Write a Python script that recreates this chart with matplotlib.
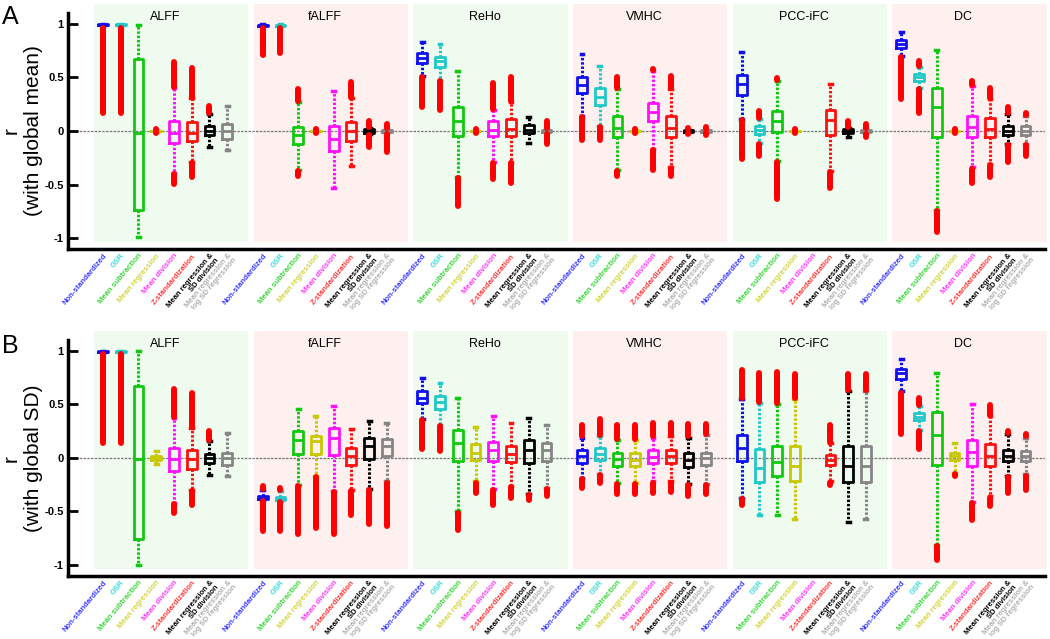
import numpy as np
import matplotlib
matplotlib.use('Agg')
import matplotlib.pyplot as plt
from matplotlib.patches import Rectangle

plt.rcParams['font.family'] = ['Liberation Sans', 'DejaVu Sans']

nan = np.nan
groups = ['ALFF', 'fALFF', 'ReHo', 'VMHC', 'PCC-iFC', 'DC']
methods = ['Non-standardized', 'GSR', 'Mean subtraction', 'Mean regression',
           'Mean division', 'Z-standardization', 'Mean regression &\nSD division',
           'Mean regression &\nlog SD regression']
box_colors = ['#1010ee', '#22c8c8', '#10c810', '#c8c800', '#ff10ff', '#ff1010', '#000000', '#858585']
label_colors = ['#3a3aff', '#3ad8d8', '#3ad83a', '#d4d440', '#ff3aff', '#ff3a3a', '#000000', '#b0b0b0']
bg_colors = ['#effbef', '#fdf0ef']

# each row: (whisker low, q1, median, q3, whisker high, lowest outlier, highest outlier)
TINY = (-0.005, -0.003, 0.0, 0.003, 0.005, -0.012, 0.012)

A_ALFF = [(0.975, 0.985, 0.99, 0.995, 1.0, 0.17, nan),
          (0.975, 0.985, 0.99, 0.995, 1.0, 0.17, nan),
          (-0.99, -0.74, -0.015, 0.67, 0.99, nan, nan),
          TINY,
          (-0.39, -0.11, -0.014, 0.094, 0.40, -0.49, 0.64),
          (-0.29, -0.09, -0.014, 0.08, 0.31, -0.43, 0.59),
          (-0.15, -0.04, 0.0, 0.05, 0.16, nan, 0.23),
          (-0.18, -0.07, 0.0, 0.07, 0.23, nan, nan)]
A_fALFF = [(0.975, 0.98, 0.985, 0.99, 0.995, 0.71, nan),
           (0.975, 0.98, 0.985, 0.99, 0.995, 0.73, nan),
           (-0.36, -0.12, -0.04, 0.04, 0.27, -0.42, 0.39),
           TINY,
           (-0.53, -0.19, -0.076, 0.05, 0.37, nan, nan),
           (-0.33, -0.09, 0.0, 0.08, 0.31, nan, 0.46),
           (-0.03, -0.02, 0.0, 0.02, 0.03, -0.15, 0.095),
           (-0.02, -0.01, 0.0, 0.01, 0.02, -0.20, 0.065)]
A_ReHo = [(0.51, 0.63, 0.68, 0.73, 0.83, 0.22, nan),
          (0.48, 0.60, 0.65, 0.69, 0.81, 0.20, nan),
          (-0.43, -0.05, 0.095, 0.22, 0.56, -0.70, nan),
          TINY,
          (-0.29, -0.05, 0.01, 0.09, 0.20, -0.45, 0.45),
          (-0.29, -0.05, 0.02, 0.11, 0.27, -0.48, 0.50),
          (-0.114, -0.02, 0.01, 0.054, 0.135, nan, nan),
          (-0.02, -0.01, 0.0, 0.01, 0.02, -0.12, 0.095)]
A_VMHC = [(0.14, 0.35, 0.43, 0.50, 0.72, -0.08, nan),
          (0.05, 0.24, 0.32, 0.40, 0.61, -0.08, nan),
          (-0.36, -0.06, 0.03, 0.14, 0.39, -0.42, 0.50),
          TINY,
          (-0.17, 0.09, 0.18, 0.26, 0.56, -0.36, 0.58),
          (-0.34, -0.06, 0.03, 0.14, 0.39, -0.42, 0.51),
          (-0.008, -0.005, 0.0, 0.005, 0.008, -0.03, 0.03),
          (-0.01, -0.005, 0.0, 0.005, 0.01, -0.04, 0.04)]
A_PCC = [(0.11, 0.34, 0.44, 0.52, 0.74, -0.26, nan),
         (-0.11, -0.03, 0.01, 0.05, 0.11, -0.23, 0.19),
         (-0.28, -0.01, 0.095, 0.19, 0.47, -0.63, 0.49),
         TINY,
         (nan, nan, nan, nan, nan, nan, nan),
         (-0.37, -0.04, 0.10, 0.20, 0.44, -0.53, nan),
         (-0.06, -0.02, 0.0, 0.02, 0.03, nan, 0.095),
         (-0.02, -0.01, 0.0, 0.01, 0.02, -0.06, 0.065)]
A_DC = [(0.70, 0.77, 0.81, 0.85, 0.92, 0.30, nan),
        (0.40, 0.47, 0.50, 0.53, 0.60, 0.17, 0.65),
        (-0.74, -0.06, 0.22, 0.40, 0.76, -0.94, nan),
        TINY,
        (-0.34, -0.06, 0.04, 0.14, 0.42, -0.48, 0.47),
        (-0.31, -0.06, 0.02, 0.12, 0.30, -0.43, 0.40),
        (-0.12, -0.04, 0.0, 0.05, 0.16, -0.29, 0.22),
        (-0.12, -0.04, 0.0, 0.05, 0.14, -0.23, 0.17)]

B_ALFF = [(0.975, 0.985, 0.99, 0.995, 1.0, 0.14, nan),
          (0.975, 0.985, 0.99, 0.995, 1.0, 0.14, nan),
          (-1.0, -0.755, -0.015, 0.675, 1.0, nan, nan),
          (-0.06, -0.02, 0.0, 0.02, 0.06, nan, nan),
          (-0.42, -0.125, -0.015, 0.093, 0.37, -0.51, 0.64),
          (-0.30, -0.10, -0.01, 0.078, 0.28, -0.44, 0.61),
          (-0.16, -0.05, 0.0, 0.04, 0.16, nan, 0.25),
          (-0.17, -0.07, 0.0, 0.05, 0.23, nan, nan)]
B_fALFF = [(-0.39, -0.385, -0.37, -0.355, -0.30, -0.68, -0.26),
           (-0.40, -0.39, -0.38, -0.365, -0.31, -0.68, -0.28),
           (-0.25, 0.04, 0.17, 0.255, 0.46, -0.71, nan),
           (-0.17, 0.04, 0.155, 0.20, 0.39, -0.65, nan),
           (-0.31, 0.03, 0.19, 0.28, 0.48, -0.71, nan),
           (-0.30, -0.07, 0.02, 0.09, 0.27, -0.53, nan),
           (-0.29, -0.01, 0.11, 0.19, 0.34, -0.62, nan),
           (-0.22, 0.015, 0.115, 0.18, 0.33, -0.64, nan)]
B_ReHo = [(0.36, 0.51, 0.56, 0.62, 0.75, 0.08, nan),
          (0.31, 0.46, 0.52, 0.575, 0.70, 0.06, nan),
          (-0.50, -0.03, 0.14, 0.26, 0.56, -0.67, nan),
          (-0.22, -0.02, 0.047, 0.125, 0.29, -0.33, nan),
          (-0.29, -0.025, 0.07, 0.15, 0.395, -0.44, nan),
          (-0.26, -0.04, 0.04, 0.115, 0.33, -0.37, nan),
          (-0.34, -0.047, 0.07, 0.165, 0.37, -0.39, nan),
          (-0.28, -0.03, 0.07, 0.14, 0.31, -0.36, nan)]
B_VMHC = [(-0.19, -0.047, 0.015, 0.07, 0.19, -0.28, 0.31),
          (-0.15, -0.016, 0.04, 0.093, 0.20, -0.23, 0.36),
          (-0.23, -0.08, -0.015, 0.047, 0.17, -0.34, 0.31),
          (-0.23, -0.08, -0.02, 0.047, 0.17, -0.34, 0.31),
          (-0.22, -0.047, 0.01, 0.07, 0.19, -0.33, 0.33),
          (-0.22, -0.047, 0.015, 0.078, 0.20, -0.32, 0.33),
          (-0.24, -0.085, -0.02, 0.05, 0.19, -0.36, 0.32),
          (-0.24, -0.07, 0.0, 0.05, 0.21, -0.34, 0.32)]
B_PCC = [(-0.37, -0.03, 0.093, 0.21, 0.545, -0.44, 0.82),
         (-0.53, -0.227, -0.093, 0.084, 0.51, nan, 0.79),
         (-0.53, -0.165, -0.04, 0.11, 0.50, nan, 0.80),
         (-0.575, -0.22, -0.078, 0.11, 0.55, nan, 0.78),
         (nan, nan, nan, nan, nan, nan, nan),
         (-0.22, -0.07, -0.02, 0.03, 0.14, -0.25, 0.31),
         (-0.60, -0.227, -0.078, 0.115, 0.62, nan, 0.78),
         (-0.575, -0.227, -0.078, 0.11, 0.62, nan, 0.78)]
B_DC = [(0.62, 0.74, 0.79, 0.83, 0.92, 0.22, nan),
        (0.26, 0.35, 0.38, 0.42, 0.48, 0.08, 0.56),
        (-0.81, -0.07, 0.21, 0.43, 0.79, -0.95, nan),
        (-0.14, -0.016, 0.016, 0.05, 0.14, -0.17, nan),
        (-0.41, -0.078, 0.053, 0.17, 0.50, -0.58, nan),
        (-0.36, -0.078, 0.02, 0.125, 0.39, -0.45, 0.49),
        (-0.17, -0.03, 0.02, 0.07, 0.22, -0.33, 0.25),
        (-0.155, -0.03, 0.02, 0.06, 0.19, -0.30, 0.22)]

yticks = [1, 0.5, 0, -0.5, -1]
ytick_labels = ['1', '0.5', '0', '-0.5', '-1']


def draw_panel(ax, data):
    n_m = len(methods)
    period = n_m + 1
    positions, labels, lcols = [], [], []
    for g, rows in enumerate(data):
        x0 = g * period
        ax.add_patch(Rectangle((x0 - 0.5, -1.035), n_m + 0.7, 2.215,
                               facecolor=bg_colors[g % 2], edgecolor='none',
                               zorder=0, clip_on=False))
        ax.text(x0 + (n_m - 1) / 2, 1.065, groups[g], ha='center', va='center',
                fontsize=9)
        for i, row in enumerate(rows):
            x = x0 + i
            positions.append(x)
            labels.append(methods[i])
            lcols.append(label_colors[i])
            wlo, q1, med, q3, whi, olo, ohi = row
            if np.isnan(med):
                continue
            c = box_colors[i]
            if not np.isnan(olo):
                ax.plot([x, x], [olo, wlo - 0.01], color='#ff0000', lw=4.3,
                        solid_capstyle='round', zorder=4)
            if not np.isnan(ohi):
                ax.plot([x, x], [whi + 0.01, ohi], color='#ff0000', lw=4.3,
                        solid_capstyle='round', zorder=4)
            stats = [dict(med=med, q1=q1, q3=q3, whislo=wlo, whishi=whi, fliers=[])]
            ax.bxp(stats, positions=[x], widths=0.55, showfliers=False,
                   manage_ticks=False, capwidths=0.16,
                   boxprops=dict(color=c, lw=2.0),
                   medianprops=dict(color=c, lw=2.0),
                   whiskerprops=dict(color=c, lw=2.2, linestyle=(0, (0.8, 0.6))),
                   capprops=dict(color=c, lw=2.5),
                   zorder=3)
    ax.axhline(0, color='#777777', lw=0.9, ls=(0, (2, 1)), zorder=1)
    ax.set_xlim(-1.97, 53.1)
    ax.set_ylim(-1.1, 1.1)
    ax.set_yticks(yticks)
    ax.set_yticklabels(ytick_labels, fontsize=8, fontweight='bold')
    ax.tick_params(axis='y', direction='in', length=7, width=2, pad=3)
    ax.set_xticks(positions)
    ax.set_xticklabels(labels, fontsize=5.5, fontweight='bold', rotation=50,
                       ha='right', va='top', rotation_mode='anchor',
                       multialignment='right', linespacing=0.95)
    for t, col in zip(ax.get_xticklabels(), lcols):
        t.set_color(col)
    ax.tick_params(axis='x', length=0, pad=2.5)
    for s in ['top', 'right']:
        ax.spines[s].set_visible(False)
    for s in ['left', 'bottom']:
        ax.spines[s].set_linewidth(2.5)
    ax.patch.set_alpha(0)


fig = plt.figure(figsize=(10.5, 6.39), dpi=100)
axA = fig.add_axes([0.0648, 0.6103, 0.9305, 0.3693])
axB = fig.add_axes([0.0648, 0.0990, 0.9305, 0.3689])
draw_panel(axA, [A_ALFF, A_fALFF, A_ReHo, A_VMHC, A_PCC, A_DC])
draw_panel(axB, [B_ALFF, B_fALFF, B_ReHo, B_VMHC, B_PCC, B_DC])

fig.text(0.021, 0.795, 'r\n(with global mean)', rotation=90, ha='center',
         va='center', fontsize=15, multialignment='center')
fig.text(0.021, 0.283, 'r\n(with global SD)', rotation=90, ha='center',
         va='center', fontsize=15, multialignment='center')
fig.text(0.002, 0.992, 'A', ha='left', va='top', fontsize=18)
fig.text(0.002, 0.478, 'B', ha='left', va='top', fontsize=18)

fig.savefig('out.png', dpi=100)
